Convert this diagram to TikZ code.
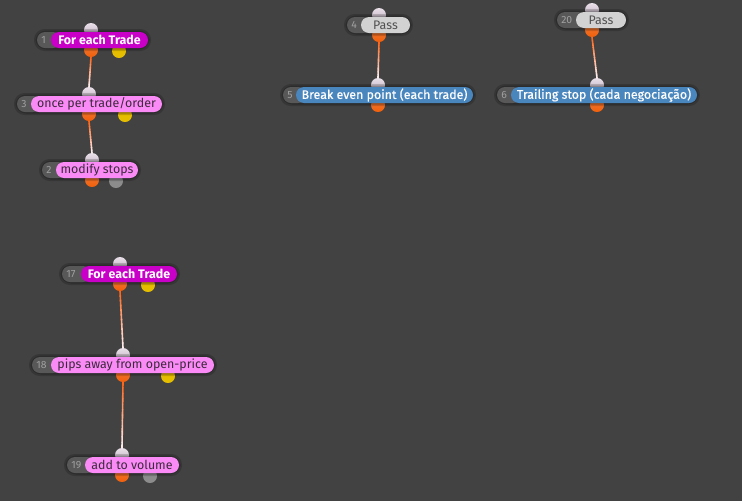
\documentclass[tikz,border=0pt]{standalone}
\usepackage{fontspec}
\setmainfont{Fira Sans}
\usetikzlibrary{calc}
\definecolor{canvas}{HTML}{424242}
\definecolor{numfill}{HTML}{585858}
\definecolor{numink}{HTML}{A0A0A0}
\definecolor{loopfill}{HTML}{C800C8}
\definecolor{pinkfill}{HTML}{FA8AF6}
\definecolor{pinkink}{HTML}{3C2A3C}
\definecolor{passfill}{HTML}{D2D2D2}
\definecolor{passink}{HTML}{505050}
\definecolor{bluefill}{HTML}{4A86BE}
\definecolor{portin}{HTML}{DCCCDC}
\definecolor{portout}{HTML}{F05E0A}
\definecolor{portyellow}{HTML}{E6BE00}
\definecolor{portgrey}{HTML}{8C8C8C}
\definecolor{linktop}{HTML}{FF661A}
\definecolor{linkbottom}{HTML}{FFEAEA}

\tikzset{
  pill/.style={rounded corners=6pt, minimum height=12pt, inner sep=0pt,
    font=\fontsize{9.3}{11}\selectfont},
  loop/.style={pill, fill=loopfill, text=white, font=\fontsize{9.3}{11}\selectfont\bfseries},
  action/.style={pill, fill=pinkfill, text=pinkink},
  pass/.style={pill, fill=passfill, text=passink},
  custom/.style={pill, fill=bluefill, text=white, font=\fontsize{9.3}{11}\selectfont\addfontfeature{FakeBold=0.6}},
  numpill/.style={fill=numfill, rounded corners=6pt},
  numtext/.style={text=numink, inner sep=0pt, font=\fontsize{7.8}{9}\selectfont},
  halo/.style={fill=black, opacity=0.18, rounded corners=8pt},
  port/.style={circle, minimum size=10.5pt, inner sep=0pt},
  portinput/.style={port, top color=portin!60!white, bottom color=portin!85!black},
  portoutput/.style={port, top color=portout!80!white, bottom color=portout},
  portaux/.style={port, fill=#1}
}

% #1 name, #2 number, #3 left of number pill, #4 left of pill, #5 right of pill,
% #6 y, #7 style, #8 label, #9 x of the ports
\newcommand{\block}[9]{%
  \node[portinput] (#1in) at (#9,#6-10) {};
  \node[portoutput] (#1out) at (#9,#6+10) {};
  \fill[halo] (#3-3,#6-11) rectangle (#5+3,#6+11);
  \fill[halo] (#3-1.5,#6-9.5) rectangle (#5+1.5,#6+9.5);
  \fill[numpill] (#3,#6-8) rectangle (#4+10,#6+8);
  \node[numtext, anchor=west] (#1num) at (#3+4,#6) {#2};
  \node[#7, minimum width={(#5-#4)*0.75pt}] (#1) at ({(#4+#5)/2},#6) {#8};
}

% gradient connector from an output port to an input port
\newcommand{\link}[2]{%
  \foreach \i in {0,...,11}{
    \pgfmathtruncatemacro{\p}{100*\i/11}
    \pgfmathsetmacro{\ta}{\i/12}
    \pgfmathsetmacro{\tb}{(\i+1)/12}
    \draw[line width=1.2pt, line cap=round, color=linkbottom!\p!linktop]
      ($(#1.south)!\ta!(#2.north)$) -- ($(#1.south)!\tb!(#2.north)$);
  }
}

\begin{document}
\begin{tikzpicture}[x=0.75pt, y=-0.75pt]

\fill[canvas] (0,0) rectangle (742,501);
\useasboundingbox (0,0) rectangle (742,501);

% first group
\node[portaux=portyellow] (n1aux) at (119,51) {};
\block{n1}{1}{37}{51}{148}{40}{loop}{For each Trade}{91}
\node[portaux=portyellow] (n3aux) at (125,115) {};
\block{n3}{3}{17}{31}{162}{104}{action}{once per trade/order}{89}
\node[portaux=portgrey] (n2aux) at (116,181) {};
\block{n2}{2}{42}{56}{138}{170}{action}{modify stops}{92}

% break even
\block{n4}{4}{347}{361}{410}{25}{pass}{Pass}{379}
\block{n5}{5}{283}{296}{473}{95}{custom}{Break even point (each trade)}{378}

% trailing stop
\block{n20}{20}{557}{576}{626}{20}{pass}{Pass}{592}
\block{n6}{6}{497}{511}{697}{95}{custom}{Trailing stop (cada negociação)}{597}

% second group
\node[portaux=portyellow] (n17aux) at (148,285) {};
\block{n17}{17}{62}{81}{177}{274}{loop}{For each Trade}{120}
\node[portaux=portyellow] (n18aux) at (168,376) {};
\block{n18}{18}{32}{51}{214}{365}{action}{pips away from open-price}{123}
\node[portaux=portgrey] (n19aux) at (150,476) {};
\block{n19}{19}{67}{85}{179}{465}{action}{add to volume}{122}

\link{n1out}{n3in}
\link{n3out}{n2in}
\link{n4out}{n5in}
\link{n20out}{n6in}
\link{n17out}{n18in}
\link{n18out}{n19in}

\end{tikzpicture}
\end{document}
